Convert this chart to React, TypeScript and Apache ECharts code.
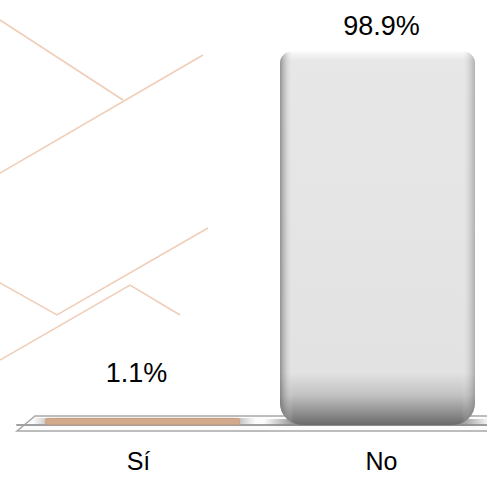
import React, { useEffect, useRef } from "react";
import * as echarts from "echarts";

const categories = ["Sí", "No"];
const values = [1.1, 98.9];
const barColors = ["#D2A98A", "gradient"];

const FONT = "'Liberation Sans', Arial, sans-serif";

export default function App() {
  const ref = useRef<HTMLDivElement>(null);
  useEffect(() => {
    if (!ref.current) return;
    const chart = echarts.init(ref.current, null, { renderer: "svg" });
    const grayGrad = new echarts.graphic.LinearGradient(0, 0, 0, 1, [
      { offset: 0, color: "#fbfbfb" },
      { offset: 0.025, color: "#e7e7e7" },
      { offset: 0.86, color: "#e2e2e2" },
      { offset: 0.92, color: "#c2c2c2" },
      { offset: 0.97, color: "#8c8c8c" },
      { offset: 1, color: "#6a6a6a" },
    ]);
    const sideGrad = new echarts.graphic.LinearGradient(0, 0, 1, 0, [
      { offset: 0, color: "rgba(90,90,90,0.6)" },
      { offset: 0.03, color: "rgba(150,150,150,0.32)" },
      { offset: 0.07, color: "rgba(255,255,255,0)" },
      { offset: 0.93, color: "rgba(255,255,255,0)" },
      { offset: 0.97, color: "rgba(160,160,160,0.25)" },
      { offset: 1, color: "rgba(110,110,110,0.45)" },
    ]);
    const shadowGrad = () =>
      new echarts.graphic.LinearGradient(0, 0, 1, 0, [
        { offset: 0, color: "rgba(140,140,140,0)" },
        { offset: 0.12, color: "rgba(140,140,140,0.85)" },
        { offset: 0.88, color: "rgba(140,140,140,0.85)" },
        { offset: 1, color: "rgba(140,140,140,0)" },
      ]);
    const deco = "#EFCDB6";
    const labelOffsets = [[-6, 0], [4, 0]];
    chart.setOption({
      animation: false,
      backgroundColor: "#ffffff",
      graphic: [
        { type: "polyline", z: 0, shape: { points: [[0, 20], [123, 100]] }, style: { stroke: deco, lineWidth: 1.5, fill: null } },
        { type: "polyline", z: 0, shape: { points: [[0, 173], [203, 55]] }, style: { stroke: deco, lineWidth: 1.5, fill: null } },
        { type: "polyline", z: 0, shape: { points: [[0, 283], [57, 315], [208, 228]] }, style: { stroke: deco, lineWidth: 1.5, fill: null } },
        { type: "polyline", z: 0, shape: { points: [[0, 360], [130, 285], [180, 315]] }, style: { stroke: deco, lineWidth: 1.5, fill: null } },
        {
          type: "polygon",
          z: 0,
          shape: { points: [[35, 416], [540, 416], [525, 431], [17, 431]] },
          style: { fill: "#fcfcfc", stroke: "#a8a8a8", lineWidth: 1.5 },
        },
        { type: "rect", z: 1, shape: { x: 33, y: 418, width: 222, height: 6 }, style: { fill: shadowGrad() } },
        { type: "rect", z: 1, shape: { x: 264, y: 419, width: 226, height: 7 }, style: { fill: shadowGrad() } },
      ],
      grid: [
        { left: 25, width: 470, top: 47, bottom: 52, containLabel: false },
        { left: 17, width: 486, top: 47, bottom: 52, containLabel: false },
      ],
      xAxis: [
        { type: "category", gridIndex: 0, data: categories, show: false },
        {
          type: "category",
          gridIndex: 1,
          data: categories,
          offset: 6,
          axisLine: { lineStyle: { color: "#a0a0a0", width: 2 } },
          axisTick: { length: 9, lineStyle: { color: "#a0a0a0", width: 1.5 } },
          axisLabel: { fontSize: 25, lineHeight: 20, color: "#000", margin: 20, fontFamily: FONT },
        },
      ],
      yAxis: [
        { type: "value", gridIndex: 0, min: 0, max: 100, show: false },
        { type: "value", gridIndex: 1, min: 0, max: 100, show: false },
      ],
      series: [
        {
          type: "bar",
          xAxisIndex: 0,
          yAxisIndex: 0,
          z: 3,
          barWidth: 195,
          barGap: "-100%",
          barMinHeight: 7,
          data: values.map((v, i) => ({
            value: v,
            itemStyle:
              i === 0
                ? { color: barColors[0], borderRadius: 2, borderColor: "#c29676", borderWidth: 0.5 }
                : { color: grayGrad, borderRadius: [12, 12, 22, 22] },
            label: {
              show: true,
              position: "top",
              distance: i === 0 ? 32 : 12,
              offset: labelOffsets[i],
              formatter: "{c}%",
              fontSize: 27,
              color: "#000",
              fontFamily: FONT,
            },
          })),
        },
        {
          type: "bar",
          xAxisIndex: 0,
          yAxisIndex: 0,
          z: 4,
          silent: true,
          barWidth: 195,
          barGap: "-100%",
          barMinHeight: 7,
          data: values.map((v, i) => ({
            value: v,
            itemStyle:
              i === 0
                ? { color: "rgba(0,0,0,0)" }
                : { color: sideGrad, borderRadius: [12, 12, 22, 22] },
          })),
        },
      ],
    });
    return () => chart.dispose();
  }, []);
  return (
    <div style={{ position: "fixed", left: 0, top: 0, width: 487, height: 477, overflow: "hidden" }}>
      <div ref={ref} style={{ width: 540, height: 477 }} />
    </div>
  );
}
